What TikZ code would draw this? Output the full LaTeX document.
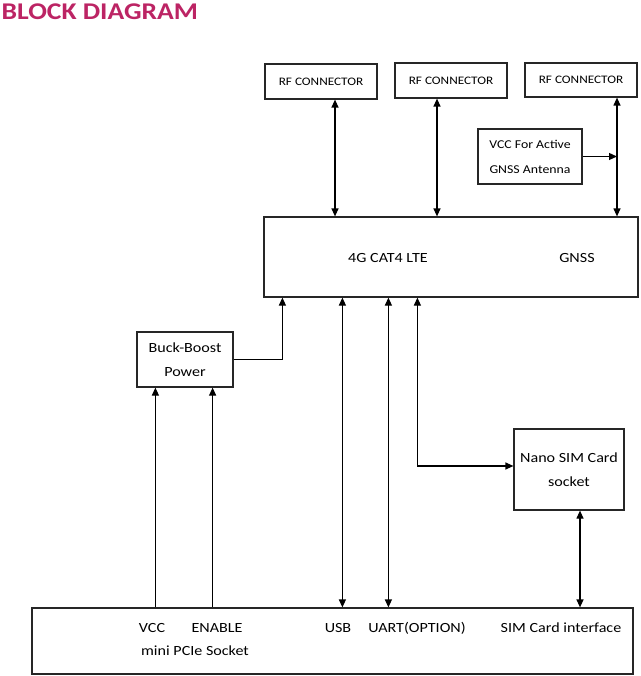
\documentclass[tikz,border=0pt]{standalone}
\usepackage{fontspec}
\setmainfont[FakeStretch=1.15]{Carlito}
\usepackage{tikz}
\usetikzlibrary{shapes,arrows,arrows.meta,positioning,calc}
\definecolor{titlecol}{RGB}{188,36,100}

\begin{document}
\begin{tikzpicture}[x=1pt, y=-1pt, >={Triangle[length=8pt,width=7pt]}, line width=1.2pt,
    blk/.style={rectangle, draw=black!85, inner sep=0pt, align=center, font=\fontsize{14}{24}\selectfont},
    lbl/.style={inner sep=0pt, font=\fontsize{14}{24}\selectfont}]
    \useasboundingbox (0,0) rectangle (640,676);

    % Title
    \node (title) [anchor=base west, inner sep=0pt, text=titlecol, font=\fontsize{24}{28}\selectfont\bfseries] at (1,20) {BLOCK DIAGRAM};

    % Nodes
    \node (rf1) [blk, minimum width=112, minimum height=35, font=\fontsize{11.5}{14}\selectfont] at (321,81.5) {RF CONNECTOR};
    \node (rf2) [blk, minimum width=112, minimum height=35, font=\fontsize{11.5}{14}\selectfont] at (451,80.5) {RF CONNECTOR};
    \node (rf3) [blk, minimum width=112, minimum height=34, font=\fontsize{11.5}{14}\selectfont] at (581,80) {RF CONNECTOR};
    \node (ant) [blk, minimum width=104, minimum height=55, font=\fontsize{12}{25}\selectfont] at (530,156.5) {VCC For Active\\GNSS Antenna};
    \node (lte) [blk, minimum width=374, minimum height=80] at (451,257) {};
    \node (buck) [blk, minimum width=96, minimum height=55] at (185,359.5) {Buck-Boost\\Power};
    \node (sim) [blk, minimum width=110, minimum height=81] at (569,469.5) {Nano SIM Card\\socket};
    \node (pcie) [blk, minimum width=601, minimum height=66] at (332.5,641) {};

    % Labels
    \node (lte4g) [lbl] at (388,258) {4G CAT4 LTE};
    \node (gnss) [lbl] at (577,258) {GNSS};
    \node (pvcc) [lbl] at (152,628) {VCC};
    \node (pen) [lbl] at (217,628) {ENABLE};
    \node (pusb) [lbl] at (338,628) {USB};
    \node (puart) [lbl] at (417,628) {UART(OPTION)};
    \node (psim) [lbl] at (561,628) {SIM Card interface};
    \node (pname) [lbl] at (195,651) {mini PCIe Socket};

    \coordinate (gnssline) at ([xshift=36]rf3.south);

    % Arrows
    \draw [<->] ([xshift=14]rf1.south) -- ([xshift=14]rf1.south |- lte.north);
    \draw [<->] ([xshift=-14]rf2.south) -- ([xshift=-14]rf2.south |- lte.north);
    \draw [<->] (gnssline) -- (gnssline |- lte.north);
    \draw [->] (ant.east) -- (ant.east -| gnssline);
    \draw [->] (buck.east) -| ([xshift=19]lte.south west);
    \draw [->] ([xshift=19]buck.south west |- pcie.north) -- ([xshift=19]buck.south west);
    \draw [->] ([xshift=-21]buck.south east |- pcie.north) -- ([xshift=-21]buck.south east);
    \draw [<->] ([xshift=79]lte.south west) -- ([xshift=79]lte.south west |- pcie.north);
    \draw [<->] ([xshift=125]lte.south west) -- ([xshift=125]lte.south west |- pcie.north);
    \draw [<->] ([xshift=154]lte.south west) |- ([yshift=3.5]sim.west);
    \draw [<->] ([xshift=11]sim.south) -- ([xshift=11]sim.south |- pcie.north);
\end{tikzpicture}
\end{document}
